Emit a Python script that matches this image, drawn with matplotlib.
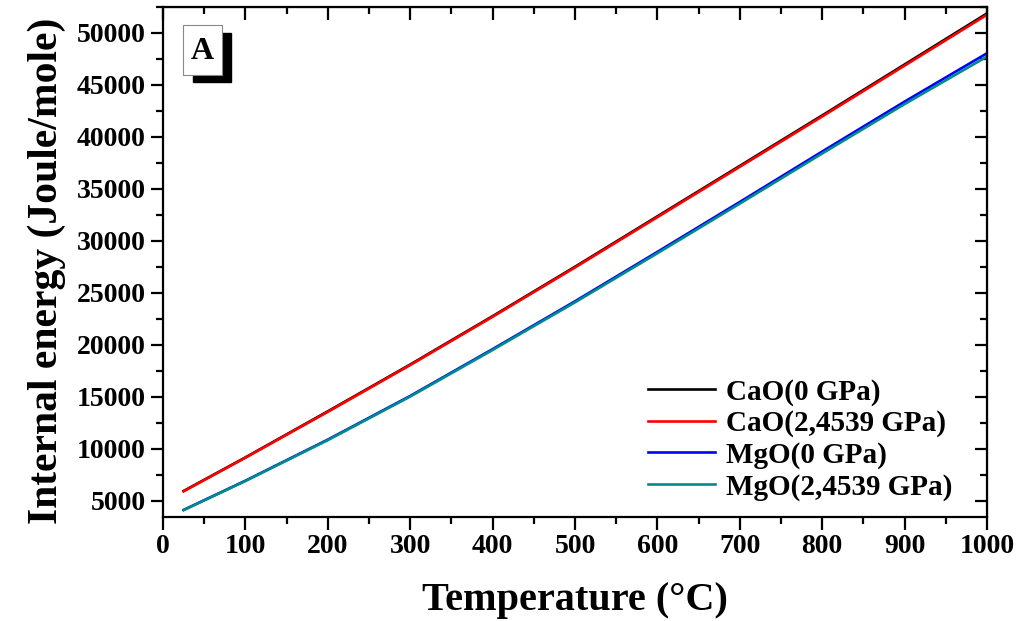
import numpy as np
import matplotlib.pyplot as plt
from matplotlib.patches import Rectangle
from matplotlib.ticker import MultipleLocator

# Datos (Temperatura en °C, energía interna en J/mol)
temperatura = [25, 100, 200, 300, 400, 500, 600, 700, 800, 900, 1000]
cao_0 = [5960, 9190, 13620, 18120, 22770, 27520, 32370, 37220, 42070, 46970, 51880]
cao_p = [5930, 9160, 13570, 18070, 22710, 27450, 32290, 37130, 41970, 46860, 51750]
mgo_0 = [4140, 6950, 10900, 15100, 19600, 24200, 28950, 33750, 38600, 43400, 48050]
mgo_p = [4120, 6920, 10850, 15040, 19520, 24100, 28820, 33590, 38410, 43160, 47730]

etiquetas = ['CaO(0 GPa)', 'CaO(2,4539 GPa)', 'MgO(0 GPa)', 'MgO(2,4539 GPa)']
colores = ['#000000', '#ff0000', '#0000ff', '#008b8b']

plt.rcParams['font.family'] = ['Liberation Serif', 'DejaVu Serif']
plt.rcParams['font.weight'] = 'bold'

fig = plt.figure(figsize=(10.19, 6.21), dpi=100)
ax = fig.add_axes([0.16, 0.1675, 0.8086, 0.8213])

series = [cao_0, cao_p, mgo_0, mgo_p]
for datos, etiqueta, color in zip(series, etiquetas, colores):
    ax.plot(temperatura, datos, color=color, linewidth=1.9, label=etiqueta)

ax.set_xlim(0, 1000)
ax.set_ylim(3460, 52500)
ax.xaxis.set_major_locator(MultipleLocator(100))
ax.xaxis.set_minor_locator(MultipleLocator(50))
ax.yaxis.set_major_locator(MultipleLocator(5000))
ax.yaxis.set_minor_locator(MultipleLocator(2500))
ax.tick_params(which='major', direction='out', length=9, width=1.6, labelsize=20)
ax.tick_params(which='minor', direction='out', length=5, width=1.6)
for s in ax.spines.values():
    s.set_linewidth(1.6)

# ejes espejo arriba y a la derecha con marcas hacia dentro
top = ax.secondary_xaxis('top')
top.xaxis.set_major_locator(MultipleLocator(100))
top.xaxis.set_minor_locator(MultipleLocator(50))
top.tick_params(which='major', direction='in', length=9, width=1.6, labeltop=False)
top.tick_params(which='minor', direction='in', length=5, width=1.6)
right = ax.secondary_yaxis('right')
right.yaxis.set_major_locator(MultipleLocator(5000))
right.yaxis.set_minor_locator(MultipleLocator(2500))
right.tick_params(which='major', direction='in', length=9, width=1.6, labelright=False)
right.tick_params(which='minor', direction='in', length=5, width=1.6)

ax.set_xlabel('Temperature (°C)', fontsize=29, fontweight='bold', labelpad=16)
ax.set_ylabel('Internal energy (Joule/mole)', fontsize=30, fontweight='bold', labelpad=8)
ax.yaxis.label.set_y(0.482)

# recuadro "A" con sombra
ax.add_patch(Rectangle((0.036, 0.853), 0.047, 0.096, transform=ax.transAxes,
                       facecolor='black', edgecolor='black', zorder=5))
ax.add_patch(Rectangle((0.024, 0.867), 0.047, 0.098, transform=ax.transAxes,
                       facecolor='white', edgecolor='#888888', linewidth=0.8, zorder=6))
ax.text(0.0475, 0.913, 'A', transform=ax.transAxes, ha='center', va='center',
        fontsize=23, fontweight='bold', zorder=7)

ax.legend(loc='upper left', bbox_to_anchor=(0.588, 0.272), frameon=False,
          fontsize=21, handlelength=2.3, handletextpad=0.4, labelspacing=0.15,
          borderpad=0, borderaxespad=0)

fig.savefig('out.png', dpi=100)
